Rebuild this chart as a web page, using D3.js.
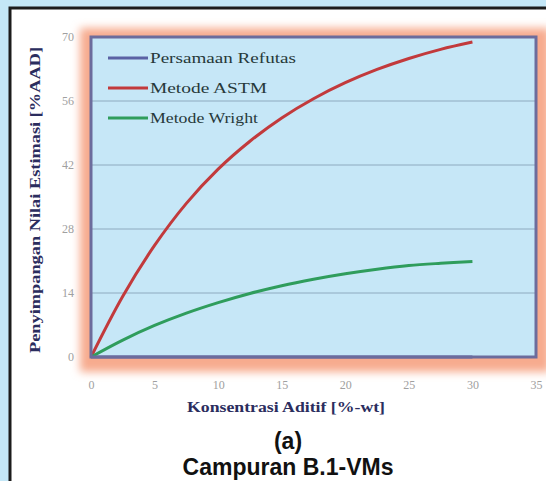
<!DOCTYPE html>
<html>
<head>
<meta charset="utf-8">
<script src="https://cdn.jsdelivr.net/npm/d3@7"></script>
<style>
  body { margin: 0; background: #c4e7f7; }
  svg { display: block; }
</style>
</head>
<body>
<div id="chart"></div>
<script>
// ---------------------------------------------------------
// DATA
// ---------------------------------------------------------
const concentration = [0, 2.5, 5, 7.5, 10, 12.5, 15, 17.5, 20, 22.5, 25, 27.5, 30];
const refutas = [0, 0, 0, 0, 0, 0, 0, 0, 0, 0, 0, 0, 0];
const astm = [0, 13.3, 24.4, 33.6, 41.1, 47.2, 52.3, 56.5, 60, 62.9, 65.3, 67.3, 68.9];
const wright = [0, 3.7, 6.9, 9.6, 11.9, 13.9, 15.6, 17, 18.2, 19.2, 20, 20.5, 20.9];
const seriesNames = ["Persamaan Refutas", "Metode ASTM", "Metode Wright"];
const seriesColors = ["#5a62a4", "#c23a3c", "#2f9d5c"];
const xTicks = [0, 5, 10, 15, 20, 25, 30, 35];
const yTicks = [0, 14, 28, 42, 56, 70];

const width = 546, height = 481;

const svg = d3.select("#chart").append("svg")
    .attr("width", width)
    .attr("height", height);

// white panel with dark frame
svg.append("rect")
    .attr("x", 10).attr("y", 8)
    .attr("width", 580).attr("height", 520)
    .attr("fill", "#fff")
    .attr("stroke", "#1c1c1c")
    .attr("stroke-width", 3);

const x = d3.scaleLinear().domain([0, 35]).range([91, 536]);
const y = d3.scaleLinear().domain([0, 70]).range([357, 37]);

// orange glow behind plot
const defs = svg.append("defs");
defs.append("filter").attr("id", "glow")
    .attr("x", "-10%").attr("y", "-10%").attr("width", "120%").attr("height", "120%")
  .append("feGaussianBlur").attr("stdDeviation", 4);

svg.append("rect")
    .attr("x", 80).attr("y", 28)
    .attr("width", 470).attr("height", 344)
    .attr("fill", "#f7ab8e")
    .attr("filter", "url(#glow)");

// plot area
svg.append("rect")
    .attr("x", x(0)).attr("y", y(70))
    .attr("width", x(35) - x(0)).attr("height", y(0) - y(70))
    .attr("fill", "#c6e7f7");

// grid
svg.append("g")
  .selectAll("line")
  .data(yTicks.filter(d => d > 0 && d < 70))
  .join("line")
    .attr("x1", x(0)).attr("x2", x(35))
    .attr("y1", d => y(d)).attr("y2", d => y(d))
    .attr("stroke", "#8eaabf")
    .attr("stroke-width", 1);

// axes (labels only)
const xAxis = svg.append("g")
    .attr("transform", `translate(0,${y(0) + 20})`)
    .call(d3.axisBottom(x).tickValues(xTicks).tickSize(0));
const yAxis = svg.append("g")
    .attr("transform", `translate(${x(0) - 14},0)`)
    .call(d3.axisLeft(y).tickValues(yTicks).tickSize(0));
[xAxis, yAxis].forEach(a => {
  a.select(".domain").remove();
  a.selectAll("text")
    .attr("font-family", "'Liberation Serif', serif")
    .attr("font-size", 12)
    .attr("fill", "#a0a0a0");
});

// curves
const line = d3.line()
    .x((d, i) => x(concentration[i]))
    .y(d => y(d))
    .curve(d3.curveCatmullRom);

[refutas, astm, wright].forEach((vals, i) => {
  svg.append("path")
    .datum(vals)
    .attr("d", line)
    .attr("fill", "none")
    .attr("stroke", seriesColors[i])
    .attr("stroke-width", 3);
});

// plot frame
svg.append("rect")
    .attr("x", x(0)).attr("y", y(70))
    .attr("width", x(35) - x(0)).attr("height", y(0) - y(70))
    .attr("fill", "none")
    .attr("stroke", "#6c6c9c")
    .attr("stroke-width", 3);

// legend
const legendY = [58, 88, 118];
const legendLen = [146, 117, 108];
const legend = svg.append("g");
seriesNames.forEach((name, i) => {
  legend.append("line")
    .attr("x1", 108).attr("x2", 148)
    .attr("y1", legendY[i]).attr("y2", legendY[i])
    .attr("stroke", seriesColors[i])
    .attr("stroke-width", 3);
  legend.append("text")
    .attr("x", 150).attr("y", legendY[i] + 5)
    .attr("font-family", "'Liberation Serif', serif")
    .attr("font-size", 15)
    .attr("fill", "#27393a")
    .attr("textLength", legendLen[i])
    .attr("lengthAdjust", "spacingAndGlyphs")
    .text(name);
});

// axis titles
svg.append("text")
    .attr("x", 286).attr("y", 412)
    .attr("text-anchor", "middle")
    .attr("font-family", "'Liberation Serif', serif")
    .attr("font-weight", "bold")
    .attr("font-size", 14)
    .attr("fill", "#2b2d5e")
    .attr("textLength", 198)
    .attr("lengthAdjust", "spacingAndGlyphs")
    .text("Konsentrasi Aditif [%-wt]");

svg.append("text")
    .attr("transform", "translate(40,200) rotate(-90)")
    .attr("text-anchor", "middle")
    .attr("font-family", "'Liberation Serif', serif")
    .attr("font-weight", "bold")
    .attr("font-size", 14)
    .attr("fill", "#2b2d5e")
    .attr("textLength", 306)
    .attr("lengthAdjust", "spacingAndGlyphs")
    .text("Penyimpangan Nilai Estimasi [%AAD]");

// captions
svg.append("text")
    .attr("x", 288).attr("y", 449)
    .attr("text-anchor", "middle")
    .attr("font-family", "'Liberation Sans', Arial, sans-serif")
    .attr("font-weight", "bold")
    .attr("font-size", 23)
    .attr("fill", "#111")
    .text("(a)");

svg.append("text")
    .attr("x", 288).attr("y", 475)
    .attr("text-anchor", "middle")
    .attr("font-family", "'Liberation Sans', Arial, sans-serif")
    .attr("font-weight", "bold")
    .attr("font-size", 23)
    .attr("fill", "#111")
    .text("Campuran B.1-VMs");
</script>
</body>
</html>
